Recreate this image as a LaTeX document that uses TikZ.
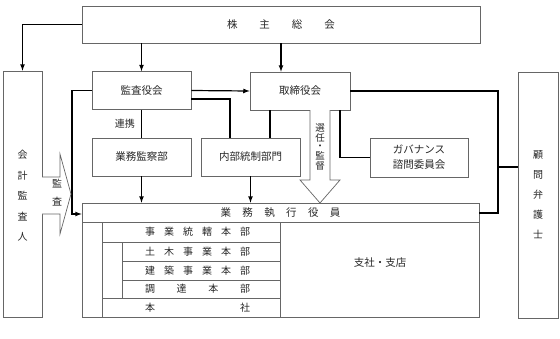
\documentclass[tikz,border=0pt]{standalone}
\usepackage{fontspec}
\setmainfont{Noto Sans CJK JP}
\usetikzlibrary{positioning}

\newcommand{\spreadtext}[2]{\makebox[#1][s]{#2}}

\begin{document}
\begin{tikzpicture}[x=1pt,y=-1pt,>=latex]
  \tikzstyle{box}=[draw=black!60,line width=0.7pt,minimum width=99pt,minimum height=38pt,inner sep=0pt,text=black!85,font=\fontsize{10.5}{15}\selectfont]
  \tikzstyle{conn}=[draw,line width=1.2pt]
  \tikzstyle{vtext}=[align=center,inner sep=0pt,text=black!85,font=\fontsize{10}{20.5}\selectfont]
  \tikzstyle{arrowbox}=[draw=black!60,line width=0.7pt,fill=white]
  \tikzstyle{rowtext}=[inner sep=0pt,text=black!85,font=\fontsize{10}{12}\selectfont]
  \useasboundingbox (0,0) rectangle (560,338);

  % top and side boxes
  \node[box,minimum width=398pt,minimum height=37pt] (sokai) at (281,24.5) {\spreadtext{108pt}{株\hfill 主\hfill 総\hfill 会}};
  \node[box,minimum width=39pt,minimum height=246pt] (kaikei) at (22.5,194) {};
  \node[vtext] (kaikeiL) at (22.5,196) {会\\計\\監\\査\\人};
  \node[box,minimum width=40pt,minimum height=246pt] (komon) at (538,195) {};
  \node[vtext,font=\fontsize{10}{20}\selectfont] (komonL) at (538,195) {顧\\問\\弁\\護\\士};

  % boards
  \node[box] (kansayaku) at (141.5,90.5) {監査役会};
  \node[box,minimum width=100pt] (torishimari) at (300,91) {取締役会};
  \node[box] (gyomu) at (141.5,157) {業務監察部};
  \node[box] (naibu) at (250.5,157) {内部統制部門};
  \node[box,minimum width=98pt,minimum height=39pt,align=center] (gov) at (419,157.5) {ガバナンス\\諮問委員会};

  % executive officers
  \node[box,minimum width=397pt,minimum height=114pt] (shikko) at (280.5,260) {};
  \node[box,minimum width=397pt,minimum height=19pt] (shikkoH) at (280.5,212.5) {\spreadtext{120pt}{業\hfill 務\hfill 執\hfill 行\hfill 役\hfill 員}};
  \node[box,minimum width=178pt,minimum height=95pt] (honsha) at (191,269.5) {};
  \node[box,minimum width=178pt,minimum height=20pt] (jigyo) at (191,232) {};
  \node[box,minimum width=158pt,minimum height=19pt] (doboku) at (201,251.5) {};
  \node[box,minimum width=158pt,minimum height=19pt] (kenchiku) at (201,270.5) {};
  \node[box,minimum width=158pt,minimum height=18pt] (chotatsu) at (201,289) {};
  \node[box,minimum width=178pt,minimum height=19pt] (honshaR) at (191,307.5) {};
  \node[rowtext] (jigyoL) at (197.5,232) {\spreadtext{105pt}{事\hfill 業\hfill 統\hfill 轄\hfill 本\hfill 部}};
  \node[rowtext] (dobokuL) at (197.5,251.5) {\spreadtext{105pt}{土\hfill 木\hfill 事\hfill 業\hfill 本\hfill 部}};
  \node[rowtext] (kenchikuL) at (197.5,270.5) {\spreadtext{105pt}{建\hfill 築\hfill 事\hfill 業\hfill 本\hfill 部}};
  \node[rowtext] (chotatsuL) at (197.5,289) {\spreadtext{105pt}{調\hfill 達\hfill 本\hfill 部}};
  \node[rowtext] (honshaL) at (197.5,307.5) {\spreadtext{105pt}{本\hfill 社}};
  \node[rowtext,font=\fontsize{10.5}{12}\selectfont] (shisha) at (380,263) {支社・支店};

  % connectors
  \draw[conn,->] (sokai.west) -| (kaikei.north);
  \draw[conn,->] (sokai.south -| kansayaku.north) -- (kansayaku.north);
  \draw[conn,->] (sokai.south) -- (sokai.south |- torishimari.north);
  \draw[conn,->] (kansayaku.east) -- (torishimari.west);
  \draw[conn] ([yshift=-8.5pt]kansayaku.east) -| ([xshift=-20.5pt]naibu.north);
  \draw[conn] (kansayaku.south) -- node[left=6pt,inner sep=0pt,text=black!85,font=\fontsize{10}{12}\selectfont] (renkei) {連携} (gyomu.north);
  \draw[conn] ([xshift=-30pt]torishimari.south) -- ([xshift=19.5pt]naibu.north);
  \draw[conn,->] (gyomu.south) -- (gyomu.south |- shikko.north);
  \draw[conn,->] (naibu.south) -- (naibu.south |- shikko.north);
  \draw[conn] ([xshift=40pt]torishimari.south) |- (gov.west);

  \coordinate (rbend) at (498,213);
  \coordinate (rjoin) at (498,167);
  \draw[conn] (torishimari.east) -| (rbend) -- (rbend -| shikko.east);
  \draw[conn] (rjoin) -- (rjoin -| komon.west);

  \coordinate (lbend) at (72,214);
  \draw[conn,->] (kansayaku.west) -| (lbend) -- (lbend -| shikko.west);

  % block arrows
  \draw[arrowbox] (42,177) -- (60,177) -- (60,154) -- (71,194) -- (60,234) -- (60,214) -- (42,214);
  \node[vtext,font=\fontsize{10}{18}\selectfont] (kansaL) at (57,193) {監\\査};
  \draw[arrowbox] (310,110) -- (310,180) -- (300,180) -- (320,203) -- (340,180) -- (330,180) -- (330,110);
  \foreach \c [count=\i] in {選,任,・,監,督}
    \node[rowtext,font=\fontsize{9.5}{10}\selectfont] (senin\i) at (320,{128+9.4*(\i-1)}) {\c};
\end{tikzpicture}
\end{document}
